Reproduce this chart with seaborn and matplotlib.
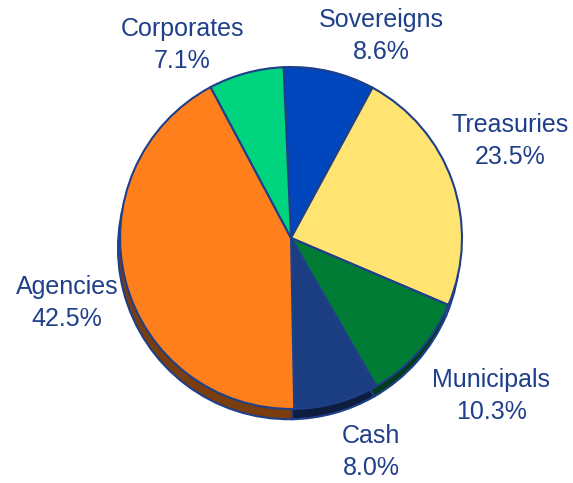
import matplotlib
matplotlib.use("Agg")
import numpy as np
import matplotlib.pyplot as plt
import matplotlib.colors as mcolors
import seaborn as sns

# portfolio mix, clockwise from the top
categories = ["Sovereigns", "Treasuries", "Municipals", "Cash", "Agencies", "Corporates"]
shares = [8.6, 23.5, 10.3, 8.0, 42.5, 7.1]

slice_colors = ["#0047BD", "#FFE471", "#007C34", "#1B3D82", "#FF7F1C", "#00D47E"]
edge_color = "#1F3F8A"
text_color = "#1F3F8A"

sns.set_style("white")
plt.rcParams["font.family"] = ["Liberation Sans", "DejaVu Sans"]


def darken(c, f=0.48):
    r, g, b = mcolors.to_rgb(c)
    return (r * f, g * f, b * f)


fig = plt.figure(figsize=(5.73, 4.83), dpi=100)
ax = fig.add_axes([0, 0, 1, 1])

wedge_kw = dict(edgecolor=edge_color, linewidth=1.5)

# shadow pie (gives the thick rim underneath)
ax.pie(shares, colors=[darken(c) for c in slice_colors], startangle=92.5,
       counterclock=False, radius=1, center=(-0.012, -0.06), wedgeprops=wedge_kw)
# main pie
ax.pie(shares, colors=slice_colors, startangle=92.5, counterclock=False,
       radius=1, center=(0, 0), wedgeprops=wedge_kw)

# label placement (data units, radius = 1)
label_xy = [(0.526, 1.181), (1.281, 0.567), (1.170, -0.924),
            (0.468, -1.251), (-1.310, -0.380), (-0.637, 1.129)]
for name, val, (x, y) in zip(categories, shares, label_xy):
    ax.text(x, y, f"{name}\n{val:.1f}%", ha="center", va="center",
            fontsize=18, color=text_color, linespacing=1.4)

ax.set_xlim(-1.702, 1.649)
ax.set_ylim(-1.433, 1.392)
ax.axis("off")

fig.savefig("out.png", dpi=100)
